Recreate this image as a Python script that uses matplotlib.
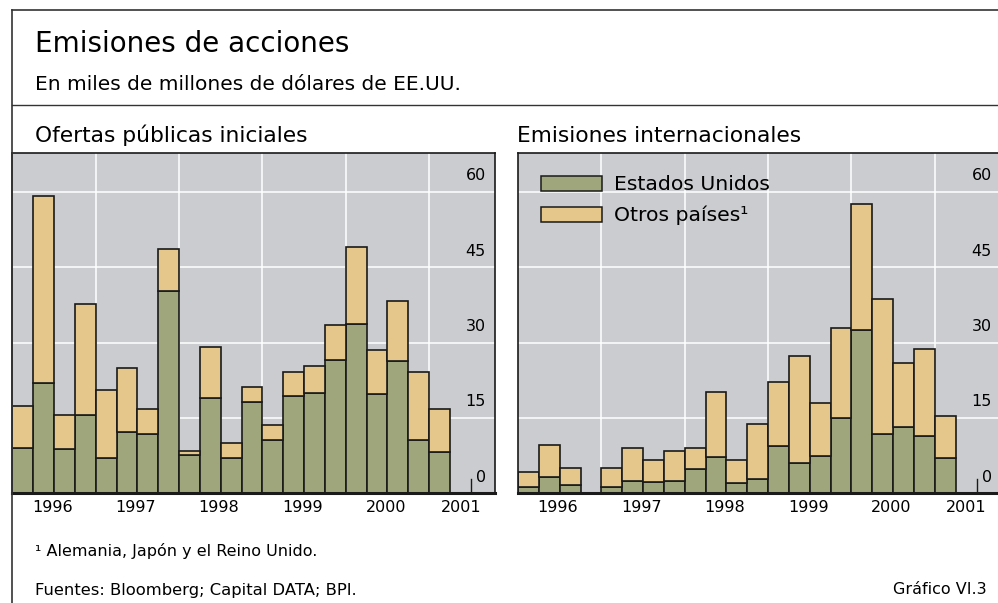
import numpy as np
import matplotlib
matplotlib.use('Agg')
import matplotlib.pyplot as plt
from matplotlib.lines import Line2D
from matplotlib.patches import Rectangle

plt.rcParams['font.family'] = ['DejaVu Sans']

W, H, DPI = 998, 603, 100

GREEN  = '#a0a67c'
ORANGE = '#e5c68b'
BG     = '#cbcccf'
EDGE   = '#1a1a1a'

# quarterly data, 1996 Q1 .. 2001 Q1
quarters = 1996 + 0.25 * np.arange(21)
ipo_us    = [9.1, 22.0, 8.9, 15.6, 7.1, 12.1, 11.9, 40.3, 7.6, 19.0, 7.0,
             18.2, 10.7, 19.4, 19.9, 26.5, 33.6, 19.8, 26.3, 10.7, 8.2]
ipo_other = [8.3, 37.2, 6.7, 22.0, 13.5, 12.8, 4.9, 8.3, 0.9, 10.1, 3.1,
             3.0, 2.9, 4.7, 5.5, 7.0, 15.5, 8.8, 12.0, 13.4, 8.6]
intl_us    = [1.3, 3.3, 1.7, 0.0, 1.3, 2.5, 2.3, 2.4, 4.9, 7.2, 2.1,
              2.8, 9.4, 6.0, 7.5, 14.9, 32.4, 11.8, 13.1, 11.5, 7.0]
intl_other = [2.9, 6.3, 3.3, 0.0, 3.7, 6.5, 4.3, 6.1, 4.1, 13.0, 4.5,
              11.0, 12.7, 21.4, 10.5, 17.9, 25.1, 26.9, 12.8, 17.3, 8.3]

years = [1996, 1997, 1998, 1999, 2000, 2001]
yticks = [0, 15, 30, 45, 60]
series_names = ['Estados Unidos', 'Otros países¹']

XMIN, XMAX = 1996.0, 2001.79
YMAX = 67.66
AX_W, AX_H = 482.7, 340.0


def px(x, y):
    return x / W, 1 - y / H


def draw_panel(ax, us, other, spines_right=True):
    ax.set_facecolor(BG)
    ax.set_xlim(XMIN, XMAX)
    ax.set_ylim(0, YMAX)
    for y in yticks[1:]:
        ax.axhline(y, color='white', lw=1.1, zorder=1)
    for yr in years[1:]:
        ax.axvline(yr, color='white', lw=1.1, zorder=1)
    us = np.array(us)
    other = np.array(other)
    m = (us + other) > 0
    ax.bar(quarters[m], us[m], width=0.25, align='edge', color=GREEN,
           edgecolor=EDGE, lw=1.2, zorder=2)
    ax.bar(quarters[m], other[m], bottom=us[m], width=0.25, align='edge',
           color=ORANGE, edgecolor=EDGE, lw=1.2, zorder=2)
    ax.set_xticks([y + 0.48 for y in years[:-1]] + [2001.38])
    ax.set_xticklabels([str(y) for y in years], fontsize=11.5)
    ax.tick_params(axis='x', length=0, pad=5)
    ax.set_yticks([])
    for v in yticks:
        ax.annotate(str(v), xy=(1, v), xycoords=('axes fraction', 'data'),
                    xytext=(-9, 16), textcoords='offset pixels',
                    ha='right', va='center', fontsize=11.5)
    ax.add_line(Line2D([0.95, 0.95], [0, 14 / AX_H], transform=ax.transAxes,
                       color=EDGE, lw=1.0, zorder=3))
    for s in ['left', 'top', 'right']:
        ax.spines[s].set_linewidth(1.2)
        ax.spines[s].set_color(EDGE)
    ax.spines['bottom'].set_linewidth(2.2)
    ax.spines['bottom'].set_color(EDGE)
    if not spines_right:
        ax.spines['right'].set_visible(False)


fig = plt.figure(figsize=(W / DPI, H / DPI), dpi=DPI)

ax1 = fig.add_axes([12.3 / W, 1 - 493.3 / H, AX_W / W, AX_H / H])
ax2 = fig.add_axes([518 / W, 1 - 493.3 / H, AX_W / W, AX_H / H])
draw_panel(ax1, ipo_us, ipo_other)
draw_panel(ax2, intl_us, intl_other, spines_right=False)

# legend drawn by hand (positions in axes pixels from the panel's top-left)
for i, (name, col) in enumerate(zip(series_names, [GREEN, ORANGE])):
    top = 23 + i * 30.7
    ax2.add_patch(Rectangle((22.7 / AX_W, 1 - (top + 14.7) / AX_H), 61 / AX_W, 14.7 / AX_H,
                            transform=ax2.transAxes, facecolor=col, edgecolor=EDGE,
                            lw=1.1, zorder=4))
    ax2.text(96 / AX_W, 1 - (top + 8.5) / AX_H, name, transform=ax2.transAxes,
             fontsize=14.7, va='center', ha='left', zorder=4)

# frame lines
fig.add_artist(Line2D([12 / W, 1], [1 - 10 / H] * 2, color='#333333', lw=1.2))
fig.add_artist(Line2D([12 / W, 1], [1 - 105 / H] * 2, color='#333333', lw=1.0))
fig.add_artist(Line2D([12 / W] * 2, [1 - 10 / H, 0], color='#333333', lw=1.2))

fig.text(*px(35, 52), 'Emisiones de acciones', fontsize=20, va='baseline')
fig.text(*px(35, 90), 'En miles de millones de dólares de EE.UU.', fontsize=14.5, va='baseline')
fig.text(*px(35, 141.5), 'Ofertas públicas iniciales', fontsize=15.7, va='baseline')
fig.text(*px(517, 141.5), 'Emisiones internacionales', fontsize=15.7, va='baseline')
fig.text(*px(35, 551), '¹ Alemania, Japón y el Reino Unido.', fontsize=11.5, va='center')
fig.text(*px(35, 590), 'Fuentes: Bloomberg; Capital DATA; BPI.', fontsize=11.8, va='center')
fig.text(*px(987, 590), 'Gráfico VI.3', fontsize=11.5, va='center', ha='right')

fig.savefig('out.png', dpi=DPI)
